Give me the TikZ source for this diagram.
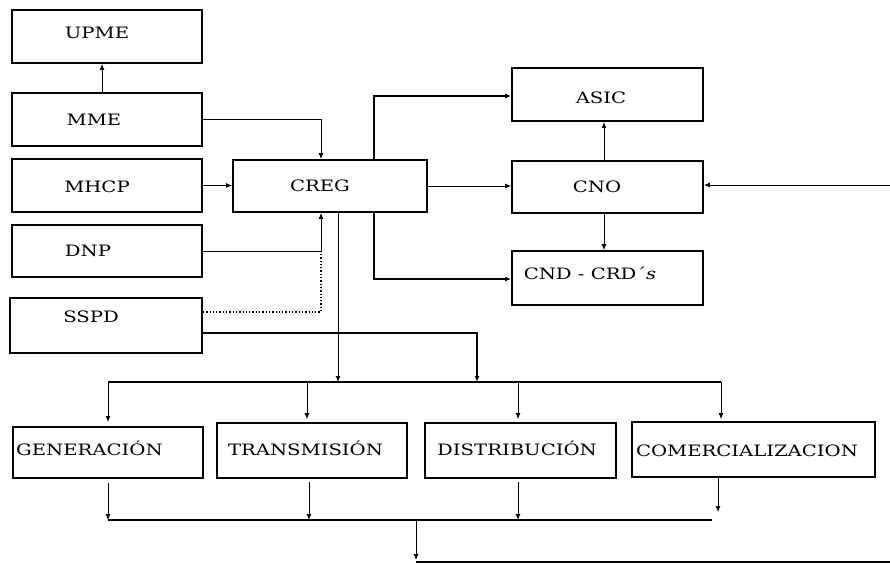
\documentclass[tikz,border=0pt]{standalone}
\usepackage{fontspec}
\setmainfont[FakeStretch=1.25]{DejaVu Serif}
\usetikzlibrary{arrows.meta}
\begin{document}
\begin{tikzpicture}[x=1pt,y=-1pt,
  box/.style={draw, line width=1.8pt, inner sep=0pt},
  lbl/.style={font=\fontsize{15.7}{18}\selectfont, inner sep=0pt, text height=11.3pt, text depth=0pt},
  arr/.style={-{Latex[length=6pt,width=5pt]}, line width=0.9pt},
  ln/.style={line width=0.9pt},
  thk/.style={line width=1.5pt},
  thkarr/.style={-{Latex[length=6pt,width=5pt]}, line width=1.4pt},
  dots/.style={dotted, line width=1.3pt}]
\useasboundingbox (0,0) rectangle (890,564);
% boxes
\node[box, minimum width=190pt, minimum height=53pt] (upme) at (107,36.5) {};
\node[box, minimum width=190pt, minimum height=53pt] (mme) at (107,119.5) {};
\node[box, minimum width=190pt, minimum height=53pt] (mhcp) at (107,185.5) {};
\node[box, minimum width=190pt, minimum height=52pt] (dnp) at (107,251) {};
\node[box, minimum width=192pt, minimum height=55pt] (sspd) at (106,325.5) {};
\node[box, minimum width=194pt, minimum height=52pt] (creg) at (330,186) {};
\node[box, minimum width=191pt, minimum height=53pt] (asic) at (607.5,94.5) {};
\node[box, minimum width=191pt, minimum height=52pt] (cno) at (607.5,187) {};
\node[box, minimum width=191pt, minimum height=54pt] (cnd) at (607.5,278) {};
\node[box, minimum width=190pt, minimum height=51pt] (gen) at (108,452.5) {};
\node[box, minimum width=190pt, minimum height=55pt] (trans) at (312,450.5) {};
\node[box, minimum width=191pt, minimum height=55pt] (dist) at (520.5,450.5) {};
\node[box, minimum width=243pt, minimum height=55pt] (com) at (753.5,449.5) {};
% labels
\node[lbl] (tupme) at (97,33) {UPME};
\node[lbl] (tmme) at (94,120) {MME};
\node[lbl] (tmhcp) at (97,186.5) {MHCP};
\node[lbl] (tdnp) at (88,251) {DNP};
\node[lbl] (tsspd) at (91,316.5) {SSPD};
\node[lbl] (tcreg) at (320,186) {CREG};
\node[lbl] (tasic) at (601,98) {ASIC};
\node[lbl] (tcno) at (597,187) {CNO};
\node[lbl] (tcnd) at (590,274) {CND - CRD´\textit{s}};
\node[lbl, anchor=west] (tgen) at (16,449.5) {GENERACIÓN};
\node[lbl] (ttrans) at (305.5,450) {TRANSMISIÓN};
\node[lbl] (tdist) at (517,450) {DISTRIBUCIÓN};
\node[lbl] (tcom) at (747,451) {COMERCIALIZACION};
% coordinates
\coordinate (dotend) at (321,254);
\coordinate (ext) at (890,185);
\coordinate (busTL) at (108,382);
\coordinate (busTR) at (721,382);
\coordinate (busC) at (338,382);
\coordinate (busS) at (477,382);
\coordinate (busBL) at (108,520);
\coordinate (busBR) at (712,520);
\coordinate (comEnd) at (718,512);
\coordinate (finTop) at (416,520);
\coordinate (finBot) at (416,562);
\coordinate (finR) at (890,562);
% connectors top-left
\draw[arr] ([xshift=-5pt]mme.north) -- ([xshift=-5pt]upme.south);
\draw[arr] (mme.east) -| ([xshift=-9pt]creg.north);
\draw[arr] (mhcp.east) -- (creg.west |- mhcp.east);
\draw[arr] (dnp.east) -| ([xshift=-9pt]creg.south);
\draw[dots] ([yshift=13.5pt]sspd.east) -| (dotend);
\draw[thkarr] ([yshift=-7.5pt]sspd.east) -| (busS);
\draw[arr] ([xshift=8pt]creg.south) -- (busC);
% right part
\draw[thkarr] ([xshift=44pt]creg.north) |- ([yshift=-1.5pt]asic.west);
\draw[arr] (creg.east) -- (cno.west |- creg.east);
\draw[thkarr] ([xshift=44pt]creg.south) |- ([yshift=-1pt]cnd.west);
\draw[arr] ([xshift=-3.5pt]cno.north) -- ([xshift=-3.5pt]asic.south);
\draw[arr] ([xshift=-3.5pt]cno.south) -- ([xshift=-3.5pt]cnd.north);
\draw[arr] (ext) -- (cno.east |- ext);
% top bus
\draw[thk] (busTL) -- (busTR);
\draw[arr, shorten >=4pt] (busTL) -- (gen.north);
\draw[arr, shorten >=3pt] (busTL -| 307,0) -- (trans.north -| 307,0);
\draw[arr, shorten >=3pt] (busTL -| 518,0) -- (dist.north -| 518,0);
\draw[arr, shorten >=2pt] (busTR) -- (com.north -| busTR);
% bottom bus
\draw[thk] (busBL) -- (busBR);
\draw[arr, shorten <=4pt] (gen.south) -- (busBL);
\draw[arr, shorten <=3pt] (trans.south -| 309,0) -- (busBL -| 309,0);
\draw[arr, shorten <=3pt] (dist.south -| 518,0) -- (busBL -| 518,0);
\draw[arr] (com.south -| comEnd) -- (comEnd);
% final
\draw[arr] (finTop) -- ([yshift=2pt]finBot);
\draw[thk] (finBot) -- (finR);
\end{tikzpicture}
\end{document}
